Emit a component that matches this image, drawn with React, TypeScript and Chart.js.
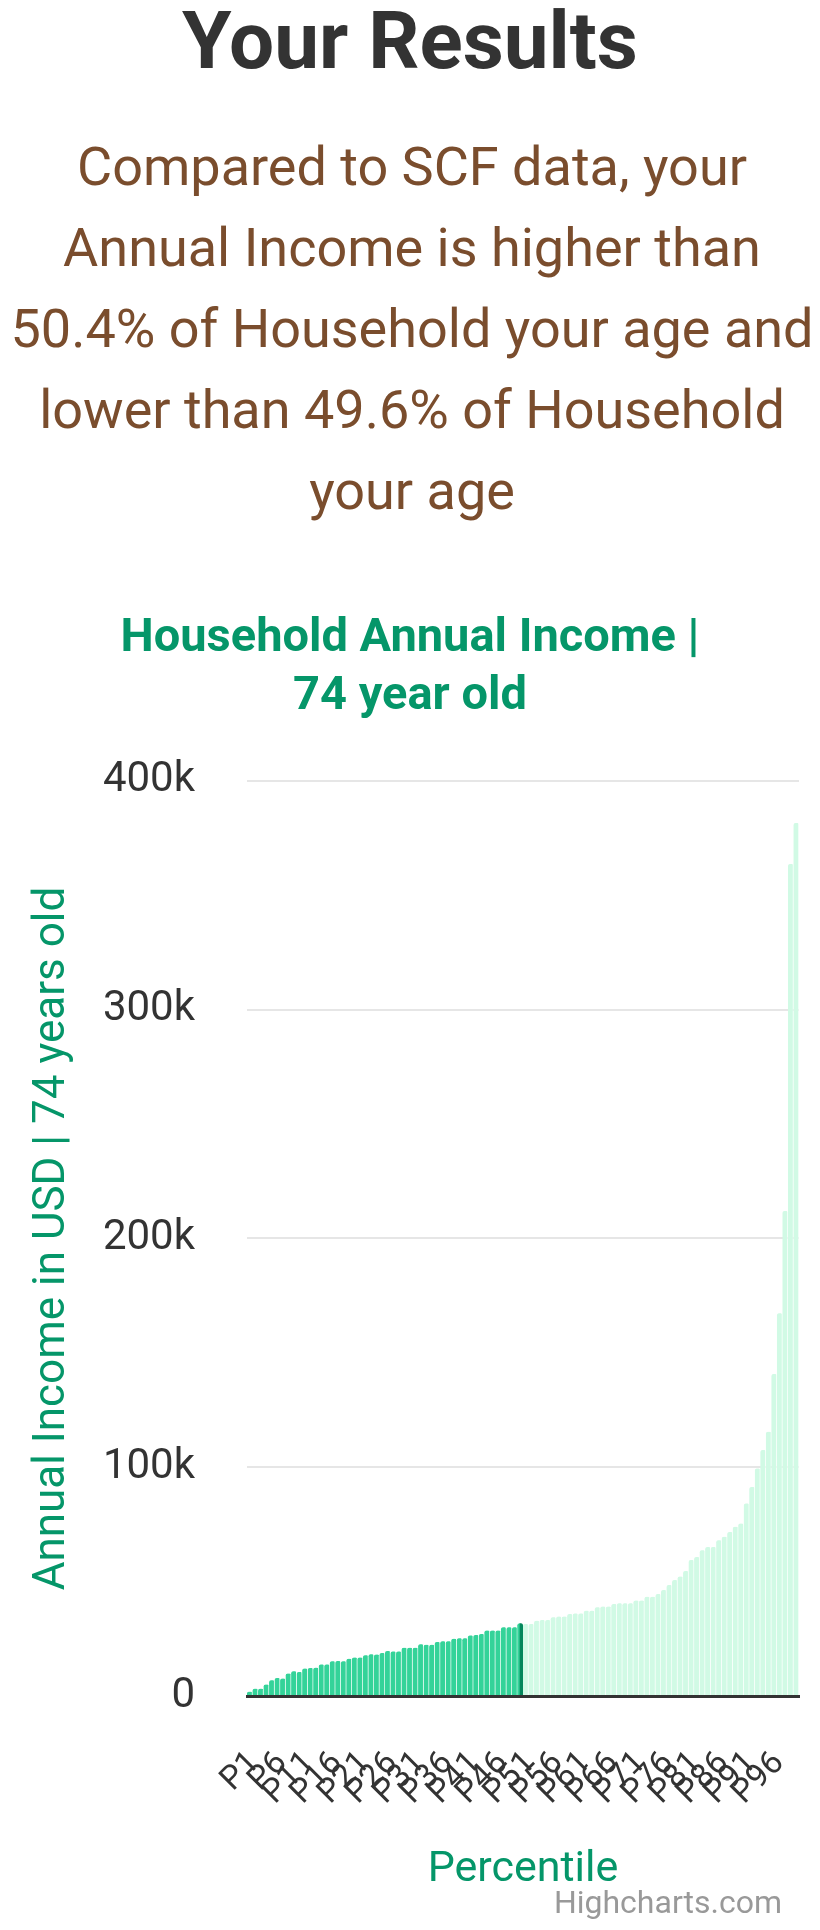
import React, { useEffect, useRef } from 'react';
import { Chart, registerables } from 'chart.js';

Chart.register(...registerables);

// Categories: household income percentiles
const percentiles = [
  'P1', 'P2', 'P3', 'P4', 'P5', 'P6', 'P7', 'P8', 'P9', 'P10',
  'P11', 'P12', 'P13', 'P14', 'P15', 'P16', 'P17', 'P18', 'P19', 'P20',
  'P21', 'P22', 'P23', 'P24', 'P25', 'P26', 'P27', 'P28', 'P29', 'P30',
  'P31', 'P32', 'P33', 'P34', 'P35', 'P36', 'P37', 'P38', 'P39', 'P40',
  'P41', 'P42', 'P43', 'P44', 'P45', 'P46', 'P47', 'P48', 'P49', 'P50',
  'P51', 'P52', 'P53', 'P54', 'P55', 'P56', 'P57', 'P58', 'P59', 'P60',
  'P61', 'P62', 'P63', 'P64', 'P65', 'P66', 'P67', 'P68', 'P69', 'P70',
  'P71', 'P72', 'P73', 'P74', 'P75', 'P76', 'P77', 'P78', 'P79', 'P80',
  'P81', 'P82', 'P83', 'P84', 'P85', 'P86', 'P87', 'P88', 'P89', 'P90',
  'P91', 'P92', 'P93', 'P94', 'P95', 'P96', 'P97', 'P98', 'P99', 'P100',
];

// Only every fifth percentile gets a label on the x axis
const tickLabels = [
  'P1', 'P6', 'P11', 'P16', 'P21', 'P26', 'P31', 'P36', 'P41', 'P46',
  'P51', 'P56', 'P61', 'P66', 'P71', 'P76', 'P81', 'P86', 'P91', 'P96',
];

// Annual income in thousands of USD
const incomeK = [
  1.9, 3.2, 3.2, 5.0, 6.9, 7.9, 7.6, 9.8, 10.8, 10.5,
  12.0, 12.2, 12.4, 13.8, 13.8, 15.2, 15.3, 15.2, 16.3, 16.8,
  16.8, 17.8, 18.2, 18.1, 18.8, 19.7, 19.5, 19.5, 21.1, 21.1,
  21.1, 22.6, 22.4, 22.4, 23.6, 23.9, 23.9, 25.0, 25.2, 25.2,
  26.5, 26.7, 27.1, 28.6, 28.6, 28.6, 30.0, 30.0, 30.0, 31.8,
  31.5, 31.5, 32.9, 33.2, 33.2, 34.4, 34.7, 34.7, 35.8, 36.1,
  36.1, 37.3, 37.3, 38.8, 39.1, 39.1, 40.2, 40.5, 40.5, 40.5,
  41.7, 41.7, 43.4, 43.4, 44.6, 46.3, 48.5, 50.7, 52.2, 54.6,
  59.4, 60.8, 63.7, 65.1, 65.1, 68.1, 69.6, 71.7, 74.0, 75.4,
  84.2, 91.4, 99.5, 107.5, 115.5, 140.8, 167.3, 212.0, 363.7, 381.6,
];

const userIndex = 49;

const GREEN = '#059669';
const BAR_BELOW = '#34d399';
const BAR_USER = '#04875c';
const BAR_ABOVE = '#d1fae5';

const App: React.FC = () => {
  const canvasRef = useRef<HTMLCanvasElement>(null);

  useEffect(() => {
    if (!canvasRef.current) return;

    const chart = new Chart(canvasRef.current, {
      type: 'bar',
      data: {
        labels: percentiles,
        datasets: [{
          data: incomeK,
          backgroundColor: incomeK.map((_, i) => i < userIndex ? BAR_BELOW : i === userIndex ? BAR_USER : BAR_ABOVE),
          borderColor: (ctx: any) => ctx.dataIndex === userIndex ? BAR_BELOW : 'rgba(255, 255, 255, 0.55)',
          borderWidth: (ctx: any) => ctx.dataIndex === userIndex
            ? { left: 2.5, right: 0, top: 0, bottom: 0 }
            : { left: 0, right: 1, top: 0, bottom: 0 },
          borderRadius: 2,
          categoryPercentage: 1,
          barPercentage: 1,
        }]
      },
      options: {
        responsive: true,
        maintainAspectRatio: false,
        animation: false,
        layout: {
          padding: 0
        },
        plugins: {
          legend: { display: false },
          tooltip: { enabled: false },
          title: {
            display: true,
            text: ['Household Annual Income |', '74 year old'],
            color: GREEN,
            font: { family: 'Roboto', size: 47, weight: 'bold', lineHeight: 1.234 },
            padding: { top: 20, bottom: 55 }
          }
        },
        scales: {
          x: {
            z: 1,
            grid: { display: false, drawTicks: false },
            border: { display: true, color: '#333333', width: 3 },
            ticks: {
              autoSkip: false,
              minRotation: 45,
              maxRotation: 45,
              padding: 48,
              labelOffset: 5,
              color: '#333333',
              font: { family: 'Roboto', size: 33 },
              callback: (_value: any, index: number) =>
                tickLabels.includes(percentiles[index]) ? percentiles[index] : ''
            },
            title: {
              display: true,
              text: 'Percentile',
              color: GREEN,
              font: { family: 'Roboto', size: 43 },
              padding: { top: 0, bottom: 34 }
            },
            afterFit: (scale: any) => {
              scale.height = 234;
              scale.paddingRight = 21;
            }
          },
          y: {
            min: 0,
            max: 400,
            grid: { color: '#e6e6e6', lineWidth: 2, drawTicks: false },
            border: { display: false },
            ticks: {
              stepSize: 100,
              padding: 52,
              color: '#333333',
              font: { family: 'Roboto', size: 42 },
              callback: (value: any) => value === 0 ? '0' : value + 'k'
            },
            title: {
              display: true,
              text: 'Annual Income in USD | 74 years old',
              color: GREEN,
              font: { family: 'Roboto', size: 44 },
              padding: { top: 27, bottom: 0 }
            },
            afterFit: (scale: any) => {
              scale.width = 247;
            }
          }
        }
      },
    });

    return () => {
      chart.destroy();
    };
  }, []);

  return (
    <div style={{ position: 'absolute', left: 0, top: 0, width: 820, height: 1930, fontFamily: 'Roboto', background: '#ffffff' }}>
      <div style={{ position: 'absolute', top: 1, left: 0, width: 820, textAlign: 'center', fontSize: 80, lineHeight: '80px', fontWeight: 700, color: '#333333' }}>
        Your Results
      </div>
      <div style={{ position: 'absolute', top: 126, left: 4, width: 816, textAlign: 'center', fontSize: 54, lineHeight: '81px', color: '#7a4d2d', whiteSpace: 'nowrap' }}>
        Compared to SCF data, your<br />
        Annual Income is higher than<br />
        50.4% of Household your age and<br />
        lower than 49.6% of Household<br />
        your age
      </div>
      <div style={{ position: 'absolute', top: 590, left: 0, width: 820, height: 1340 }}>
        <canvas ref={canvasRef}></canvas>
      </div>
      <div style={{ position: 'absolute', top: 1886, right: 38, fontSize: 32, lineHeight: '32px', color: '#999999' }}>
        Highcharts.com
      </div>
    </div>
  );
};

export default App;
